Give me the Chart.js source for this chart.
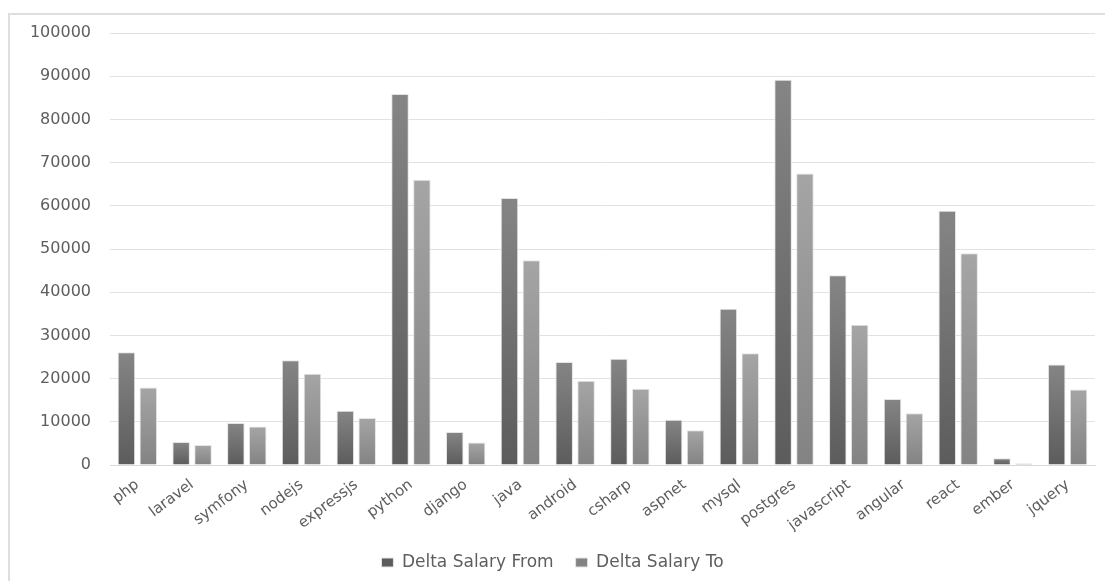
<!DOCTYPE html>
<html>
<head>
<meta charset="utf-8">
<script src="https://cdn.jsdelivr.net/npm/chart.js@4/dist/chart.umd.min.js"></script>
<style>
  html, body { margin: 0; padding: 0; background: #fff; overflow: hidden; }
  #frame { position: absolute; left: 8px; top: 13px; width: 1200px; height: 700px; border: 2px solid #dedede; }
  #wrap { position: absolute; left: 0; top: 0; width: 1105px; height: 581px; }
</style>
</head>
<body>
<div id="frame"></div>
<div id="wrap"><canvas id="salaryChart"></canvas></div>
<script>
const categories = ['php', 'laravel', 'symfony', 'nodejs', 'expressjs', 'python', 'django', 'java', 'android',
  'csharp', 'aspnet', 'mysql', 'postgres', 'javascript', 'angular', 'react', 'ember', 'jquery'];
const salaryFrom = [26100, 5350, 9700, 24250, 12550, 85900, 7650, 61800, 23850,
  24600, 10500, 36150, 89200, 43900, 15250, 58850, 1550, 23250];
const salaryTo = [17950, 4650, 8900, 21150, 10900, 66050, 5200, 47400, 19500,
  17650, 8050, 25850, 67450, 32450, 12000, 49000, 400, 17500];
const yTicks = [0, 10000, 20000, 30000, 40000, 50000, 60000, 70000, 80000, 90000, 100000];

// Excel-ish vertical gradient per bar, lighter on top
function barFill(top, bottom, solid) {
  return (ctx) => {
    if (ctx.type !== 'data') return solid;
    const chart = ctx.chart;
    const y = chart.scales.y;
    if (!y || !chart.chartArea) return solid;
    const y0 = y.getPixelForValue(0);
    const y1 = y.getPixelForValue(ctx.raw);
    if (!isFinite(y0) || !isFinite(y1) || y0 === y1) return solid;
    const g = chart.ctx.createLinearGradient(0, y1, 0, y0);
    g.addColorStop(0, top);
    g.addColorStop(1, bottom);
    return g;
  };
}

const fontFamily = "'DejaVu Sans', sans-serif";

new Chart(document.getElementById('salaryChart'), {
  type: 'bar',
  data: {
    labels: categories,
    datasets: [
      {
        label: 'Delta Salary From',
        data: salaryFrom,
        backgroundColor: barFill('#858585', '#5c5c5c', '#6a6a6a'),
        borderColor: '#e4e4e4',
        borderWidth: 1
      },
      {
        label: 'Delta Salary To',
        data: salaryTo,
        backgroundColor: barFill('#a5a5a5', '#838383', '#959595'),
        borderColor: '#e4e4e4',
        borderWidth: 1
      }
    ]
  },
  options: {
    responsive: true,
    maintainAspectRatio: false,
    animation: false,
    layout: { padding: { left: 10, right: 10, top: 33, bottom: 0 } },
    categoryPercentage: 0.8,
    barPercentage: 0.8,
    plugins: {
      tooltip: { enabled: false },
      legend: {
        position: 'bottom',
        labels: {
          color: '#5e5e5e',
          font: { family: fontFamily, size: 17 },
          boxWidth: 12,
          boxHeight: 9,
          padding: 22
        }
      }
    },
    scales: {
      x: {
        grid: { display: false },
        border: { color: '#d9d9d9', width: 1 },
        ticks: {
          color: '#5e5e5e',
          font: { family: fontFamily, size: 15 },
          minRotation: 37,
          maxRotation: 37,
          autoSkip: false,
          padding: 3
        },
        afterFit: (s) => { s.height = 67; }
      },
      y: {
        min: 0,
        max: 100000,
        border: { display: false },
        grid: { color: '#e2e2e2', lineWidth: 1, drawTicks: false },
        afterBuildTicks: (s) => { s.ticks = yTicks.map(v => ({ value: v })); },
        ticks: {
          color: '#5e5e5e',
          font: { family: fontFamily, size: 16 },
          padding: 19,
          callback: (v) => String(v)
        },
        afterFit: (s) => { s.width = 100; }
      }
    }
  }
});
</script>
</body>
</html>
